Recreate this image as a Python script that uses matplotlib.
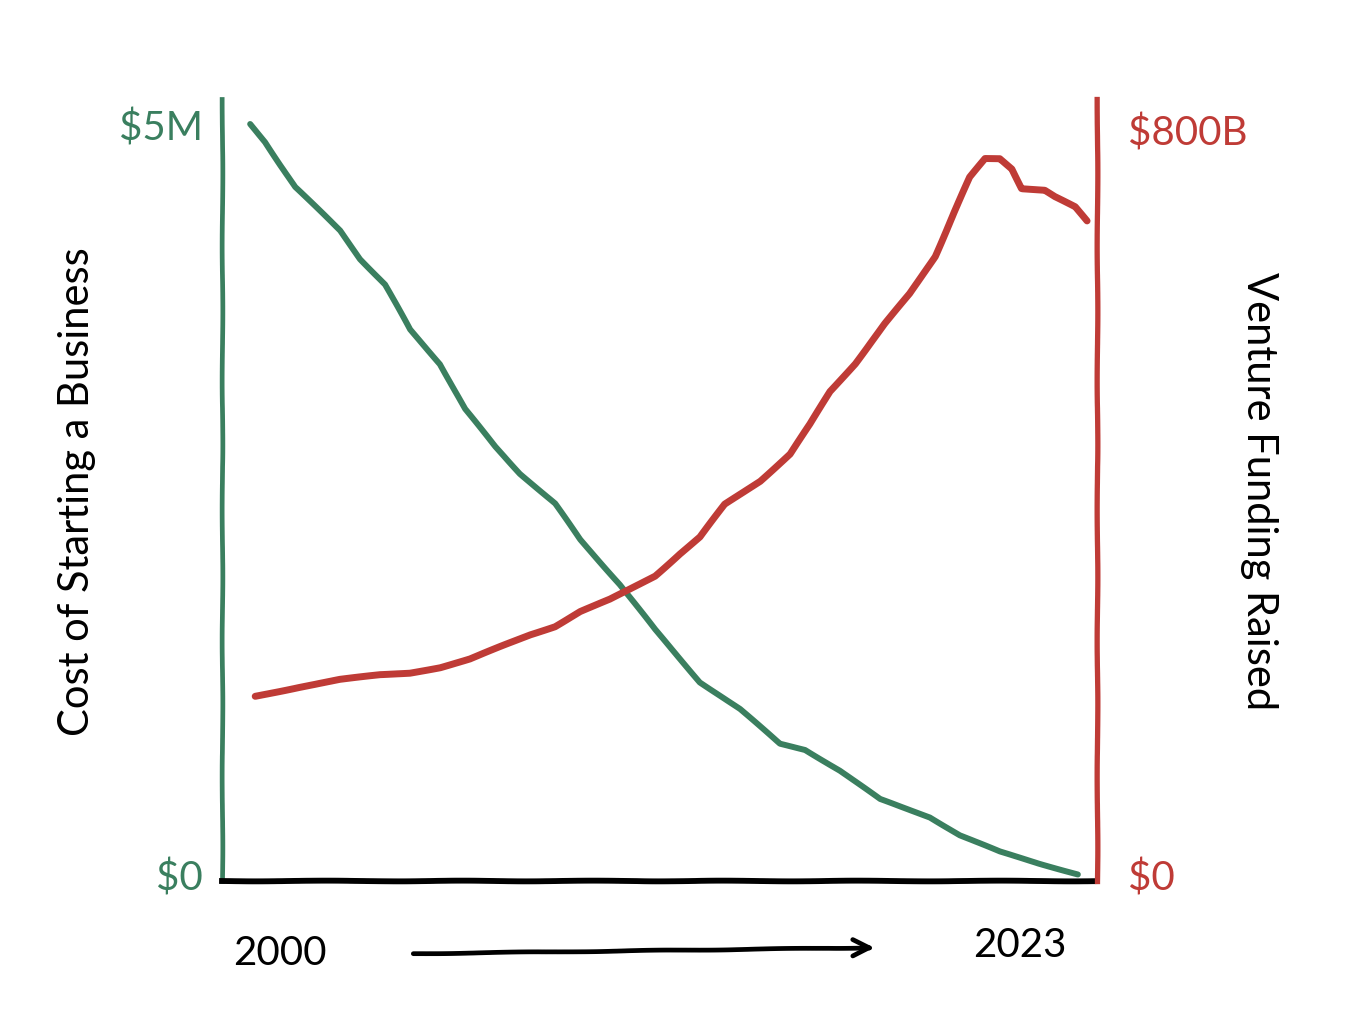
import matplotlib

matplotlib.use("Agg")
import matplotlib.pyplot as plt

GREEN = "#3a7f5f"
RED = "#bf3b36"

# cost of starting a business ($M)
cost_years = [2000.0, 2000.42, 2000.83, 2001.25, 2001.81, 2002.5, 2003.06, 2003.75,
              2004.44, 2005.28, 2005.97, 2006.81, 2007.5, 2008.47, 2009.17, 2010.28,
              2011.25, 2012.5, 2013.61, 2014.72, 2015.42, 2016.39, 2017.5, 2018.89,
              2019.72, 2020.83, 2021.94, 2023.0]
cost_musd = [5.0, 4.88, 4.73, 4.58, 4.45, 4.29, 4.10, 3.93,
             3.63, 3.40, 3.10, 2.85, 2.67, 2.47, 2.23, 1.93,
             1.63, 1.28, 1.10, 0.87, 0.83, 0.69, 0.50, 0.38,
             0.26, 0.15, 0.07, 0.0]

# venture funding raised ($B), red curve
vc_years = [2000.14, 2001.39, 2002.5, 2003.61, 2004.44, 2005.28, 2006.11, 2006.94,
            2007.78, 2008.47, 2009.17, 2010.0, 2010.56, 2011.25, 2011.94, 2012.5,
            2013.19, 2014.17, 2015.0, 2015.56, 2016.11, 2016.81, 2017.64, 2018.33,
            2019.03, 2019.58, 2020.0, 2020.42, 2020.83, 2021.17, 2021.44, 2022.08,
            2022.36, 2022.92, 2023.25]
vc_busd = [191, 201, 209, 214, 216, 222, 231, 244,
           257, 266, 282, 295, 306, 320, 344, 362,
           397, 422, 451, 483, 518, 548, 591, 623,
           663, 712, 748, 768, 768, 757, 736, 734,
           727, 716, 701]

plt.rcParams["font.family"] = ["Lato", "DejaVu Sans"]
plt.rcParams["path.sketch"] = (0.35, 150, 2)

fig = plt.figure(figsize=(13.46, 10.2), dpi=100)
ax = fig.add_axes([0.165, 0.135, 0.65, 0.767])
ax2 = ax.twinx()

ax.plot(cost_years, cost_musd, color=GREEN, lw=4.3, solid_capstyle="round")
ax2.plot(vc_years, vc_busd, color=RED, lw=5.0, solid_capstyle="round")

ax.set_xlim(1999.22, 2023.53)
ax.set_ylim(-0.047, 5.167)
ax2.set_ylim(-7.5, 832)

for a in (ax, ax2):
    a.spines["top"].set_visible(False)
    a.set_xticks([])
ax.spines["left"].set_color(GREEN)
ax.spines["left"].set_linewidth(3.4)
ax.spines["right"].set_visible(False)
ax.spines["bottom"].set_color("black")
ax.spines["bottom"].set_linewidth(4.2)
ax2.spines["left"].set_visible(False)
ax2.spines["bottom"].set_visible(False)
ax2.spines["right"].set_color(RED)
ax2.spines["right"].set_linewidth(3.8)

ax.set_yticks([0, 5], ["$0", "$5M"])
ax.tick_params(axis="y", length=0, pad=14, labelsize=29, labelcolor=GREEN)
ax2.set_yticks([0, 800], ["$0", "$800B"])
ax2.tick_params(axis="y", length=0, pad=22, labelsize=29, labelcolor=RED)

ax.set_ylabel("Cost of Starting a Business", fontsize=30, labelpad=16)
ax2.set_ylabel("Venture Funding Raised", fontsize=30, rotation=270, labelpad=22)

fig.text(0.208, 0.065, "2000", fontsize=29, ha="center", va="center")
fig.text(0.758, 0.073, "2023", fontsize=29, ha="center", va="center")
fig.add_artist(matplotlib.patches.FancyArrowPatch(
    (0.305, 0.064), (0.652, 0.070), transform=fig.transFigure,
    arrowstyle="->,head_length=12,head_width=6", lw=3.4, color="black"))

fig.savefig("out.png", dpi=100)
